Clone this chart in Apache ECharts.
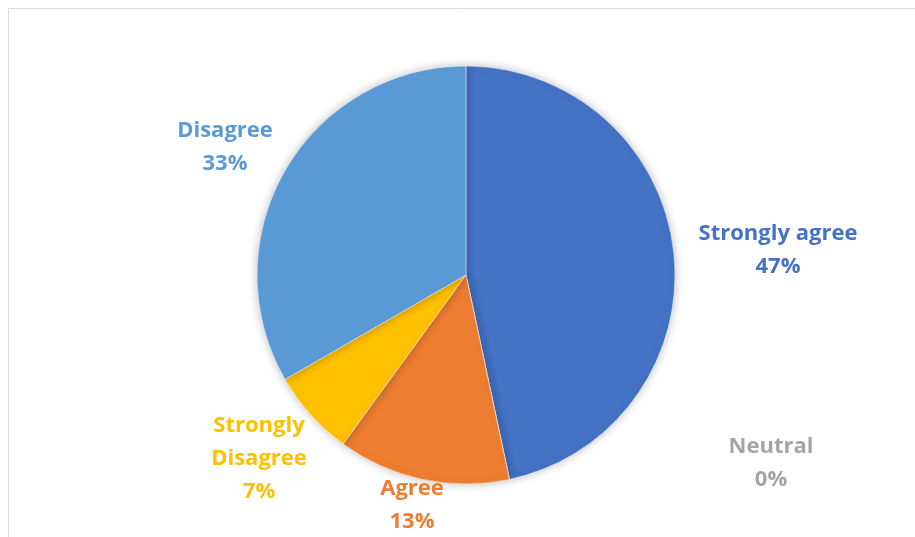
<!DOCTYPE html>
<html>
<head>
<meta charset="utf-8">
<script src="https://cdn.jsdelivr.net/npm/echarts@6/dist/echarts.min.js"></script>
<style>
html,body{margin:0;padding:0;background:#fff;}
#chart{width:915px;height:537px;}
</style>
</head>
<body>
<div id="chart"></div>
<script>
const categories = ['Strongly agree', 'Neutral', 'Agree', 'Strongly Disagree', 'Disagree'];
const values = [7, 0, 2, 1, 5];
const colors = ['#4472C4', '#A5A5A5', '#ED7D31', '#FFC000', '#5B9BD5'];
const labelNames = ['Strongly agree', 'Neutral', 'Agree', 'Strongly\nDisagree', 'Disagree'];
const labelSpots = [[778, 250], [771, 463], [412, 505], [259, 459], [225, 147]];

const chart = echarts.init(document.getElementById('chart'));
chart.setOption({
  backgroundColor: '#fff',
  animation: false,
  graphic: [{
    type: 'rect',
    shape: {x: 8.5, y: 8.5, width: 1000, height: 1000},
    style: {fill: 'none', stroke: '#D9D9D9', lineWidth: 1},
    silent: true
  }],
  series: [{
    type: 'pie',
    center: [466, 275],
    radius: 209,
    startAngle: 90,
    clockwise: true,
    percentPrecision: 0,
    avoidLabelOverlap: false,
    data: categories.map((c, i) => ({
      name: c,
      value: values[i],
      itemStyle: {color: colors[i]},
      label: {color: colors[i]}
    })),
    itemStyle: {
      borderColor: '#fff',
      borderWidth: 0.5,
      shadowBlur: 10,
      shadowColor: 'rgba(0,0,0,0.25)'
    },
    label: {
      show: true,
      position: 'outside',
      formatter: p => labelNames[p.dataIndex] + '\n' + Math.round(p.percent) + '%',
      fontFamily: 'Open Sans',
      fontWeight: 'bold',
      fontSize: 22,
      lineHeight: 33,
      align: 'center'
    },
    labelLine: {show: false},
    labelLayout: function (params) {
      const s = labelSpots[params.dataIndex];
      return {x: s[0], y: s[1], align: 'center', verticalAlign: 'middle'};
    }
  }]
});
</script>
</body>
</html>
